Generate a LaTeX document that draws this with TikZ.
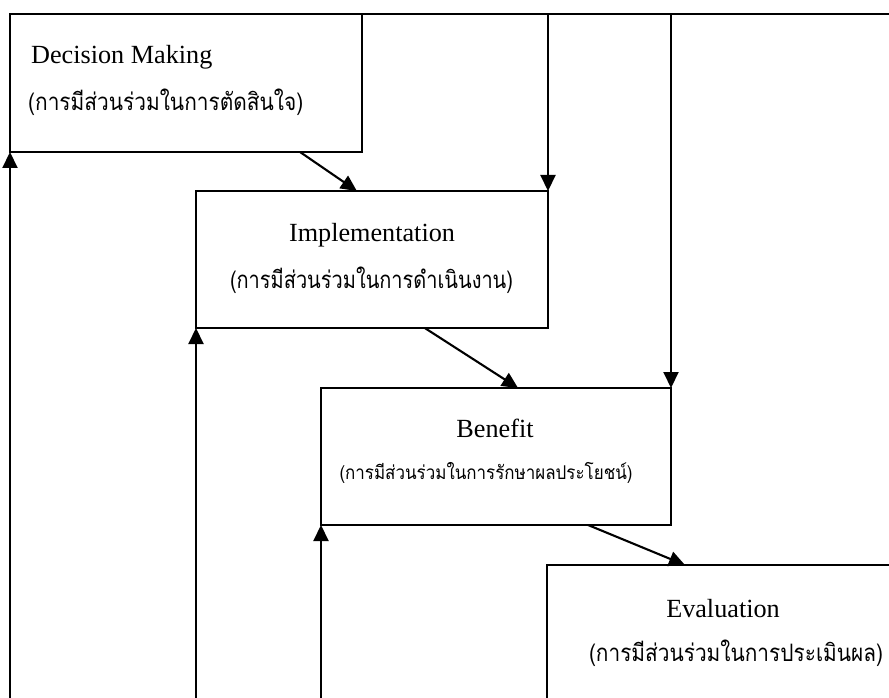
\documentclass[tikz,border=0pt]{standalone}
\usepackage{fontspec}
\setmainfont{Liberation Serif}
\newfontfamily\thaifont[Script=Thai]{Loma}
\usetikzlibrary{arrows.meta,calc}
\newcommand\thaiw[3]{\resizebox{#2}{\height}{\fontsize{#1}{#1}\selectfont\thaifont #3}}
\tikzset{
  box/.style={draw, line width=2.1pt, rectangle, inner sep=0pt, outer sep=0pt, anchor=north west},
  ln/.style={line width=2.1pt},
  arr/.style={line width=2.1pt, -{Triangle[length=16pt,width=15pt]}},
  lbl/.style={inner sep=0pt, font=\fontsize{26.2}{30}\selectfont},
  thl/.style={inner sep=0pt}
}
\begin{document}
\begin{tikzpicture}[x=1pt,y=-1pt]
\clip (0,0) rectangle (889,698);
\fill[white] (0,0) rectangle (889,698);
% boxes
\node[box, minimum width=352pt, minimum height=138pt] (dm) at (10,14) {};
\node[box, minimum width=352pt, minimum height=137pt] (impl) at (196,191) {};
\node[box, minimum width=350pt, minimum height=137pt] (ben) at (321,388) {};
\node[box, minimum width=352pt, minimum height=200pt] (ev) at (547,565) {};
% labels
\node[lbl, anchor=base west] (dmt) at (31,64) {Decision Making};
\node[thl, anchor=west] (dmth) at (28,102) {\thaiw{24}{275pt}{(การมีส่วนร่วมในการตัดสินใจ)}};
\node[lbl, anchor=base] (implt) at (372,241) {Implementation};
\node[thl] (implth) at (371.5,280) {\thaiw{24}{283pt}{(การมีส่วนร่วมในการดำเนินงาน)}};
\node[lbl, anchor=base] (bent) at (495,437) {Benefit};
\node[thl] (benth) at (486,473) {\thaiw{19}{293pt}{(การมีส่วนร่วมในการรักษาผลประโยชน์)}};
\node[lbl, anchor=base] (evt) at (723,617) {Evaluation};
\node[thl] (evth) at (736,653) {\thaiw{24}{294pt}{(การมีส่วนร่วมในการประเมินผล)}};
% diagonal arrows
\draw[arr] ($(dm.south west)!0.824!(dm.south east)$) -- ($(impl.north west)!0.457!(impl.north east)$);
\draw[arr] ($(impl.south west)!0.65!(impl.south east)$) -- ($(ben.north west)!0.563!(ben.north east)$);
\draw[arr] ($(ben.south west)!0.763!(ben.south east)$) -- ($(ev.north west)!0.392!(ev.north east)$);
% top feedback lines
\coordinate (tr) at (900,14);
\coordinate (t1) at (impl.north east |- dm.north);
\coordinate (t2) at (ben.north east |- dm.north);
\draw[ln] (dm.north east) -- (tr);
\draw[arr] (t1) -- (impl.north east);
\draw[arr] (t2) -- (ben.north east);
% bottom upward lines
\coordinate (b1) at (dm.south west |- 0,710);
\coordinate (b2) at (impl.south west |- 0,710);
\coordinate (b3) at (ben.south west |- 0,710);
\draw[arr] (b1) -- (dm.south west);
\draw[arr] (b2) -- (impl.south west);
\draw[arr] (b3) -- (ben.south west);
\end{tikzpicture}
\end{document}
